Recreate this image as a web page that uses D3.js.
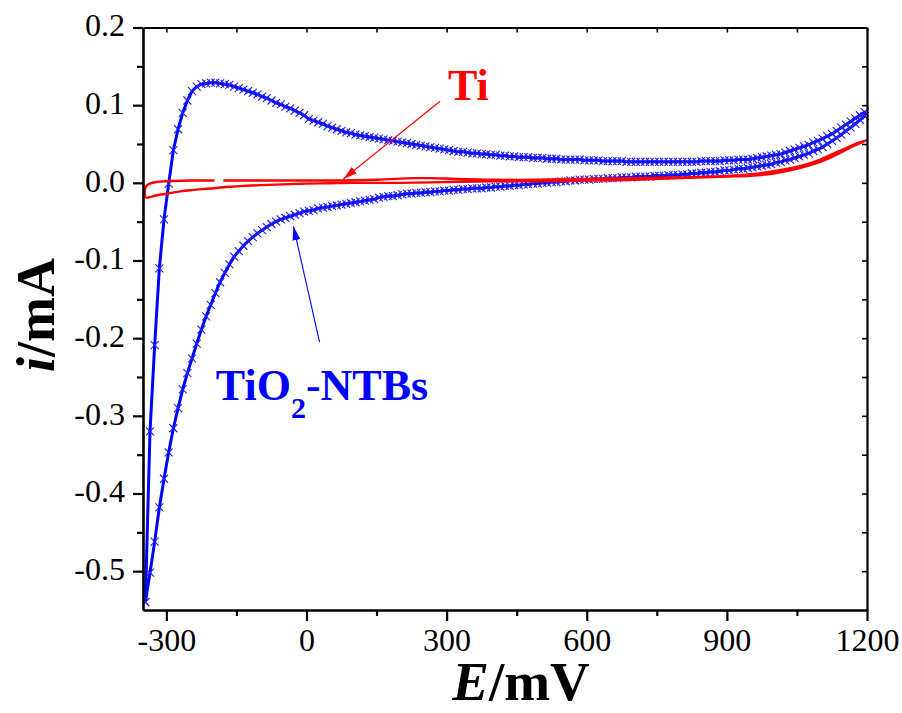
<!DOCTYPE html>
<html>
<head>
<meta charset="utf-8">
<script src="https://cdn.jsdelivr.net/npm/d3@7"></script>
<style>
  html, body { margin: 0; padding: 0; background: #ffffff; }
  svg { display: block; }
  text { font-family: "Liberation Serif", "Times New Roman", serif; }
</style>
</head>
<body>
<script>
// ---------------- DATA ----------------
// Potential grid (mV) for the TiO2-NTBs scan (markers at every sampled point)
const potentials = [
  -345, -335, -325, -315, -305, -295, -285, -275, -265, -255,
  -245, -235, -225, -215, -205, -195, -185, -175, -165, -155,
  -145, -135, -125, -115, -105, -95, -85, -75, -65, -55,
  -45, -35, -25, -15, -5, 5, 15, 25, 35, 45,
  55, 65, 75, 85, 95, 105, 115, 125, 135, 145,
  155, 165, 175, 185, 195, 205, 215, 225, 235, 245,
  255, 265, 275, 285, 295, 305, 315, 325, 335, 345,
  355, 365, 375, 385, 395, 405, 415, 425, 435, 445,
  455, 465, 475, 485, 495, 505, 515, 525, 535, 545,
  555, 565, 575, 585, 595, 605, 615, 625, 635, 645,
  655, 665, 675, 685, 695, 705, 715, 725, 735, 745,
  755, 765, 775, 785, 795, 805, 815, 825, 835, 845,
  855, 865, 875, 885, 895, 905, 915, 925, 935, 945,
  955, 965, 975, 985, 995, 1005, 1015, 1025, 1035, 1045,
  1055, 1065, 1075, 1085, 1095, 1105, 1115, 1125, 1135, 1145,
  1155, 1165, 1175, 1185, 1195
];
// TiO2-NTBs anodic (forward) branch current (mA)
const tio2Anodic = [
  -0.540, -0.320, -0.209, -0.110, -0.047, -0.001, 0.042, 0.069, 0.090, 0.106,
  0.118, 0.124, 0.127, 0.128, 0.129, 0.129, 0.128, 0.127, 0.126, 0.124,
  0.122, 0.120, 0.118, 0.116, 0.114, 0.111, 0.109, 0.106, 0.103, 0.101,
  0.098, 0.096, 0.093, 0.090, 0.087, 0.082, 0.080, 0.078, 0.076, 0.073,
  0.071, 0.069, 0.067, 0.065, 0.064, 0.062, 0.061, 0.060, 0.059, 0.058,
  0.057, 0.056, 0.055, 0.054, 0.053, 0.052, 0.051, 0.050, 0.049, 0.048,
  0.047, 0.046, 0.045, 0.044, 0.043, 0.042, 0.041, 0.040, 0.040, 0.039,
  0.038, 0.038, 0.037, 0.037, 0.036, 0.036, 0.035, 0.035, 0.034, 0.034,
  0.033, 0.033, 0.033, 0.032, 0.032, 0.032, 0.031, 0.031, 0.031, 0.030,
  0.030, 0.030, 0.030, 0.030, 0.029, 0.029, 0.029, 0.029, 0.028, 0.028,
  0.028, 0.028, 0.028, 0.027, 0.027, 0.027, 0.027, 0.027, 0.027, 0.027,
  0.027, 0.027, 0.027, 0.027, 0.027, 0.027, 0.027, 0.027, 0.027, 0.028,
  0.028, 0.028, 0.028, 0.028, 0.029, 0.029, 0.029, 0.030, 0.030, 0.030,
  0.031, 0.032, 0.033, 0.034, 0.035, 0.036, 0.037, 0.039, 0.041, 0.043,
  0.045, 0.047, 0.049, 0.052, 0.054, 0.057, 0.060, 0.063, 0.067, 0.071,
  0.075, 0.079, 0.083, 0.087, 0.091
];
// TiO2-NTBs cathodic (reverse) branch current (mA), listed on the same ascending grid
const tio2Cathodic = [
  -0.540, -0.502, -0.462, -0.418, -0.381, -0.347, -0.316, -0.290, -0.266, -0.245,
  -0.226, -0.207, -0.189, -0.172, -0.157, -0.142, -0.128, -0.116, -0.105, -0.095,
  -0.088, -0.081, -0.075, -0.070, -0.065, -0.061, -0.057, -0.053, -0.050, -0.047,
  -0.045, -0.043, -0.041, -0.039, -0.037, -0.036, -0.035, -0.033, -0.032, -0.031,
  -0.030, -0.029, -0.028, -0.027, -0.026, -0.025, -0.024, -0.023, -0.022, -0.021,
  -0.019, -0.018, -0.017, -0.017, -0.016, -0.015, -0.014, -0.014, -0.013, -0.013,
  -0.012, -0.012, -0.011, -0.011, -0.010, -0.010, -0.009, -0.009, -0.008, -0.008,
  -0.007, -0.007, -0.007, -0.006, -0.006, -0.005, -0.005, -0.004, -0.004, -0.003,
  -0.003, -0.002, -0.002, -0.001, -0.001, 0.000, 0.000, 0.001, 0.001, 0.002,
  0.002, 0.003, 0.003, 0.004, 0.004, 0.004, 0.005, 0.005, 0.005, 0.006,
  0.006, 0.006, 0.007, 0.007, 0.007, 0.008, 0.008, 0.008, 0.008, 0.009,
  0.009, 0.009, 0.010, 0.010, 0.010, 0.011, 0.011, 0.012, 0.012, 0.013,
  0.013, 0.014, 0.014, 0.015, 0.016, 0.016, 0.017, 0.018, 0.018, 0.019,
  0.020, 0.021, 0.022, 0.023, 0.024, 0.026, 0.027, 0.029, 0.030, 0.032,
  0.034, 0.036, 0.038, 0.041, 0.043, 0.046, 0.050, 0.054, 0.058, 0.062,
  0.067, 0.071, 0.076, 0.081, 0.086
];
// Ti electrode loop (forward then reverse); null = gap in the trace
const tiPotential = [
  -343, -340, -330, -320, -300, -280, -270, -250, -200, -165,
  -150, -100, -50, -20, 0, 50, 100, 200, 300, 400,
  500, 600, 700, 800, 900, 950, 1000, 1056, 1100, 1127,
  1163, 1200,
  1180, 1160, 1130, 1100, 1060, 1000, 950, 900, 800, 700,
  600, 500, 400, 320, 270, 230, 150, 50, -50, -150,
  -178, -188, -197, -250, -300, -321, -335, -343, -346, -345
];
const tiCurrent = [
  -0.020, -0.019, -0.0175, -0.016, -0.014, -0.012, -0.011, -0.0095, -0.007, -0.005,
  -0.0045, -0.003, -0.002, -0.0013, -0.001, -0.0005, 0.000, 0.000, 0.001, 0.002,
  0.002, 0.003, 0.004, 0.006, 0.008, 0.009, 0.012, 0.019, 0.027, 0.034,
  0.045, 0.055,
  0.051, 0.046, 0.038, 0.030, 0.022, 0.015, 0.011, 0.009, 0.007, 0.006,
  0.005, 0.004, 0.004, 0.005, 0.006, 0.006, 0.004, 0.003, 0.003, 0.003,
  0.003, null, 0.003, 0.003, 0.002, 0.001, -0.001, -0.004, -0.010, -0.020
];
const xTicks = [-300, 0, 300, 600, 900, 1200];
const xTickLabels = ["-300", "0", "300", "600", "900", "1200"];
const xMinorTicks = [-150, 150, 450, 750, 1050];
const yTicks = [0.2, 0.1, 0.0, -0.1, -0.2, -0.3, -0.4, -0.5];
const yTickLabels = ["0.2", "0.1", "0.0", "-0.1", "-0.2", "-0.3", "-0.4", "-0.5"];
const yMinorTicks = [0.15, 0.05, -0.05, -0.15, -0.25, -0.35, -0.45];

// ---------------- LAYOUT ----------------
const W = 902, H = 713;
const L = 143, R = 867, T = 27.5, B = 610;
const x = d3.scaleLinear().domain([-350, 1200]).range([L, R]);
const y = d3.scaleLinear().domain([-0.55, 0.2]).range([B, T]);

const svg = d3.select("body").append("svg").attr("width", W).attr("height", H);

const defs = svg.append("defs");
function arrowMarker(id, color) {
  defs.append("marker")
    .attr("id", id)
    .attr("markerUnits", "userSpaceOnUse")
    .attr("viewBox", "0 0 14 8")
    .attr("refX", 14).attr("refY", 4)
    .attr("markerWidth", 14).attr("markerHeight", 8)
    .attr("orient", "auto")
    .append("path").attr("d", "M0,0L14,4L0,8Z").attr("fill", color);
}
arrowMarker("arrRed", "#ff0000");
arrowMarker("arrBlue", "#0000ff");

const plot = svg.append("g");
plot.append("clipPath").attr("id", "clip")
  .append("rect").attr("x", L).attr("y", T - 8).attr("width", R - L + 4).attr("height", B - T + 8);

// ---------------- SERIES ----------------
const anodic = potentials.map((E, k) => ({ E, i: tio2Anodic[k] }));
const cathodic = potentials.map((E, k) => ({ E, i: tio2Cathodic[k] })).reverse();
const tio2Loop = anodic.concat(cathodic);
const tiLoop = tiPotential.map((E, k) => ({ E, i: tiCurrent[k] }));

const line = d3.line().x(d => x(d.E)).y(d => y(d.i)).defined(d => d.i !== null);
const smoothLine = d3.line().x(d => x(d.E)).y(d => y(d.i))
  .defined(d => d.i !== null).curve(d3.curveCatmullRom.alpha(0.5));

const g = plot.append("g").attr("clip-path", "url(#clip)");

g.append("path").datum(tio2Loop)
  .attr("d", line).attr("fill", "none")
  .attr("stroke", "#0000ff").attr("stroke-width", 3).attr("stroke-linejoin", "round");

const ms = 4;
g.append("g").selectAll("path").data(tio2Loop).join("path")
  .attr("transform", d => `translate(${x(d.E)},${y(d.i)})`)
  .attr("d", `M${-ms},${-ms}L${ms},${ms}M${-ms},${ms}L${ms},${-ms}`)
  .attr("fill", "none").attr("stroke", "#1f1fff").attr("stroke-width", 1.1);

g.append("path").datum(tiLoop)
  .attr("d", smoothLine).attr("fill", "none")
  .attr("stroke", "#ff0000").attr("stroke-width", 2.4).attr("stroke-linejoin", "round");

// ---------------- AXES ----------------
const axB = svg.append("g").attr("transform", `translate(0,${B})`)
  .call(d3.axisBottom(x).tickValues(xTicks).tickSize(11).tickSizeOuter(0)
    .tickFormat((d, k) => xTickLabels[k]));
const axBm = svg.append("g").attr("transform", `translate(0,${B})`)
  .call(d3.axisBottom(x).tickValues(xMinorTicks).tickSize(6).tickFormat(""));
const axL = svg.append("g").attr("transform", `translate(${L},0)`)
  .call(d3.axisLeft(y).tickValues(yTicks).tickSize(10).tickSizeOuter(0).tickPadding(8)
    .tickFormat((d, k) => yTickLabels[k]));
const axLm = svg.append("g").attr("transform", `translate(${L},0)`)
  .call(d3.axisLeft(y).tickValues(yMinorTicks).tickSize(6).tickFormat(""));
const axT = svg.append("g").attr("transform", `translate(0,${T})`)
  .call(d3.axisTop(x).tickValues(xTicks.concat(xMinorTicks)).tickSize(-5).tickSizeOuter(0).tickFormat(""));
const axR = svg.append("g").attr("transform", `translate(${R},0)`)
  .call(d3.axisRight(y).tickValues(yTicks.concat(yMinorTicks)).tickSize(-5).tickSizeOuter(0).tickFormat(""));

[axBm, axLm].forEach(a => a.select(".domain").remove());
[axB, axL].forEach(a => a.select(".domain").attr("stroke", "#000").attr("stroke-width", 2.6));
[axT, axR].forEach(a => a.select(".domain").attr("stroke", "#000").attr("stroke-width", 2.2));
[axB, axBm, axL, axLm].forEach(a => a.selectAll(".tick line").attr("stroke", "#000").attr("stroke-width", 2.2));
[axT, axR].forEach(a => a.selectAll(".tick line").attr("stroke", "#000").attr("stroke-width", 1.6));

axB.selectAll(".tick text")
  .attr("y", 41).attr("dy", "0")
  .style("font-family", "'Liberation Serif', 'Times New Roman', serif")
  .style("font-size", "32px").attr("fill", "#000");
axL.selectAll(".tick text")
  .attr("dy", "0.26em")
  .style("font-family", "'Liberation Serif', 'Times New Roman', serif")
  .style("font-size", "32px").attr("fill", "#000");

// ---------------- AXIS TITLES ----------------
const xt = svg.append("text")
  .attr("x", 521).attr("y", 700).attr("text-anchor", "middle")
  .style("font-size", "55px").style("font-weight", "bold").attr("fill", "#000");
xt.append("tspan").style("font-style", "italic").text("E");
xt.append("tspan").text("/mV");

const yt = svg.append("text")
  .attr("transform", "translate(54,315) rotate(-90)").attr("text-anchor", "middle")
  .style("font-size", "54px").style("font-weight", "bold").attr("fill", "#000");
yt.append("tspan").style("font-style", "italic").text("i");
yt.append("tspan").text("/mA");

// ---------------- ANNOTATIONS ----------------
svg.append("line")
  .attr("x1", x(286)).attr("y1", y(0.105)).attr("x2", x(79)).attr("y2", y(0.005))
  .attr("stroke", "#ff0000").attr("stroke-width", 1.1).attr("marker-end", "url(#arrRed)");
svg.append("text")
  .attr("x", x(303)).attr("y", y(0.1065))
  .style("font-size", "44px").style("font-weight", "bold").attr("fill", "#ff0000")
  .text("Ti");

svg.append("line")
  .attr("x1", x(28)).attr("y1", y(-0.205)).attr("x2", x(-28)).attr("y2", y(-0.056))
  .attr("stroke", "#0000ff").attr("stroke-width", 1.1).attr("marker-end", "url(#arrBlue)");
const lab = svg.append("text")
  .attr("x", x(-194)).attr("y", y(-0.280))
  .style("font-size", "44px").style("font-weight", "bold").attr("fill", "#0000ff");
lab.append("tspan").text("TiO");
lab.append("tspan").attr("dy", 18).style("font-size", "30px").text("2");
lab.append("tspan").attr("dy", -18).text("-NTBs");
</script>
</body>
</html>
